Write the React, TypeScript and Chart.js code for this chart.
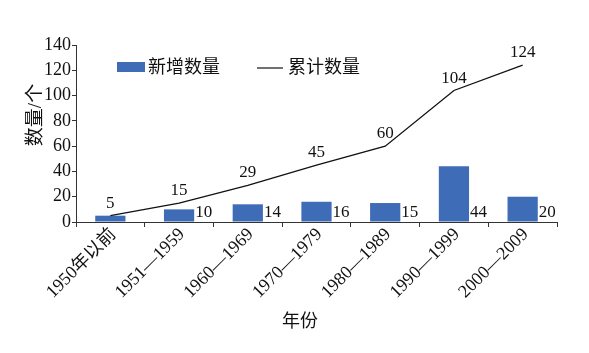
import React, { useEffect, useRef } from "react";
import { Chart, registerables } from "chart.js";

Chart.register(...registerables);

const categories = ["1950年以前", "1951—1959", "1960—1969", "1970—1979", "1980—1989", "1990—1999", "2000—2009"];
const newCounts = [5, 10, 14, 16, 15, 44, 20];
const cumulativeCounts = [5, 15, 29, 45, 60, 104, 124];
const yTicks = [0, 20, 40, 60, 80, 100, 120, 140];
const barLegend = "新增数量";
const lineLegend = "累计数量";
const yTitle = "数量/个";
const xTitle = "年份";

const SERIF = '"Liberation Serif", "Noto Sans CJK SC", serif';
const BLUE = "#3F6CB6";
const AXIS = "#333333";

const overlayPlugin = {
  id: "overlay",
  afterDatasetsDraw(chart: any) {
    const ctx = chart.ctx as CanvasRenderingContext2D;
    const area = chart.chartArea;
    const barMeta = chart.getDatasetMeta(0);
    const lineMeta = chart.getDatasetMeta(1);
    ctx.save();
    ctx.beginPath();
    ctx.rect(area.left, 0, area.right - area.left, area.bottom);
    ctx.clip();
    ctx.fillStyle = "#111";
    ctx.font = `17px ${SERIF}`;
    // bar labels
    ctx.textAlign = "left";
    ctx.textBaseline = "alphabetic";
    barMeta.data.forEach((bar: any, i: number) => {
      if (newCounts[i] === cumulativeCounts[i]) return;
      const half = bar.width / 2;
      ctx.fillText(String(newCounts[i]), bar.x + half + 1, area.bottom - 5);
    });
    // line labels
    ctx.textAlign = "center";
    lineMeta.data.forEach((pt: any, i: number) => {
      ctx.fillText(String(cumulativeCounts[i]), pt.x, pt.y - 8);
    });
    ctx.restore();

    // legend
    ctx.save();
    ctx.fillStyle = BLUE;
    ctx.fillRect(117, 62, 28, 10);
    ctx.strokeStyle = "#111";
    ctx.lineWidth = 1.2;
    ctx.beginPath();
    ctx.moveTo(257, 68);
    ctx.lineTo(283, 68);
    ctx.stroke();
    ctx.fillStyle = "#111";
    ctx.font = `18px ${SERIF}`;
    ctx.textAlign = "left";
    ctx.textBaseline = "middle";
    ctx.fillText(barLegend, 148, 68);
    ctx.fillText(lineLegend, 288, 68);

    // axis titles
    ctx.textAlign = "center";
    ctx.textBaseline = "middle";
    ctx.fillText(xTitle, 300, 322);
    ctx.translate(36, 115);
    ctx.rotate(-Math.PI / 2);
    ctx.font = `19px ${SERIF}`;
    ctx.fillText(yTitle, 0, 0);
    ctx.restore();
  },
};

export default function App() {
  const ref = useRef<HTMLCanvasElement | null>(null);
  useEffect(() => {
    if (!ref.current) return;
    const chart = new Chart(ref.current, {
      type: "bar",
      data: {
        labels: categories,
        datasets: [
          {
            type: "bar",
            label: barLegend,
            data: newCounts,
            backgroundColor: BLUE,
            borderWidth: 0,
            barPercentage: 0.44,
            categoryPercentage: 1,
            order: 1,
          },
          {
            type: "line",
            label: lineLegend,
            data: cumulativeCounts,
            borderColor: "#111",
            borderWidth: 1.3,
            pointRadius: 0,
            tension: 0,
            fill: false,
            order: 0,
          } as any,
        ],
      },
      options: {
        animation: false,
        responsive: true,
        maintainAspectRatio: false,
        layout: { padding: { top: 45, right: 32, left: 0, bottom: 0 } },
        plugins: { legend: { display: false }, tooltip: { enabled: false } },
        scales: {
          x: {
            offset: true,
            grid: { display: true, drawOnChartArea: false, drawTicks: true, tickLength: 5, color: AXIS, offset: true },
            border: { display: true, color: AXIS, width: 1 },
            ticks: {
              autoSkip: false,
              minRotation: 45,
              maxRotation: 45,
              padding: -3,
              labelOffset: 3,
              color: "#111",
              font: { family: SERIF, size: 18 },
            },
            afterFit: (s: any) => {
              s.height = 131;
            },
          },
          y: {
            min: 0,
            max: 140,
            afterBuildTicks: (s: any) => {
              s.ticks = yTicks.map((v) => ({ value: v }));
            },
            grid: { display: true, drawOnChartArea: false, drawTicks: true, tickLength: 4, color: AXIS },
            border: { display: true, color: AXIS, width: 1 },
            ticks: {
              padding: 1,
              color: "#111",
              font: { family: SERIF, size: 18 },
            },
            afterFit: (s: any) => {
              s.width = 76;
            },
          },
        },
      },
      plugins: [overlayPlugin],
    });
    return () => chart.destroy();
  }, []);
  return (
    <div style={{ position: "fixed", left: 0, top: 0, width: 589, height: 353, background: "#fff" }}>
      <canvas ref={ref} width={589} height={353} />
    </div>
  );
}
